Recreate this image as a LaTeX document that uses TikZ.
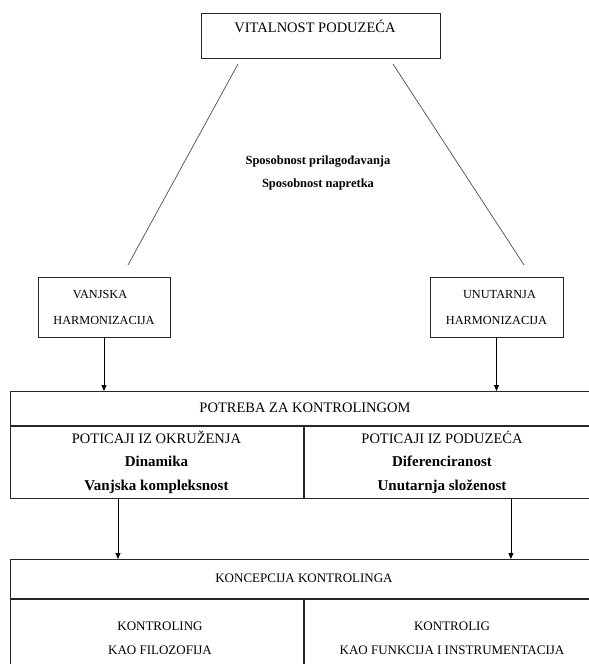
\documentclass[tikz,border=0pt]{standalone}
\usepackage{fontspec}
\setmainfont{Liberation Serif}
\usetikzlibrary{calc,positioning,arrows.meta}

\begin{document}
\begin{tikzpicture}[x=1pt,y=-1pt,
  box/.style={draw=black!85,line width=0.9pt,inner sep=0pt,align=center,
    font=\fontsize{12.3}{26}\selectfont},
  cell/.style={draw=black!85,line width=0.9pt,inner sep=0pt,anchor=north west},
  txt/.style={align=center,inner sep=0pt,font=\fontsize{14.5}{24.5}\selectfont},
  small/.style={txt,font=\fontsize{13}{24}\selectfont},
  arr/.style={-{Triangle[length=6pt,width=5pt]},line width=0.8pt},
  link/.style={line width=0.7pt,black!70}]
  \newcommand{\bfl}[1]{{\bfseries\fontsize{15}{24}\selectfont #1}}
  \useasboundingbox (0,0) rectangle (589,664);
  \clip (0,0) rectangle (589,664);
  % top
  \node[cell,minimum width=239pt,minimum height=45pt] (vit) at (201,13) {};
  \node[txt] (vitt) at (315,26) {VITALNOST PODUZEĆA};
  \node[txt,font=\fontsize{12.5}{23}\selectfont\bfseries] (sposob) at (318,173)
    {Sposobnost prilagođavanja\\Sposobnost napretka};
  % harmonizacija
  \node[box,minimum width=132pt,minimum height=60pt] (vanj) at (104,307)
    {\hspace*{-8pt}VANJSKA\\HARMONIZACIJA};
  \node[box,minimum width=133pt,minimum height=60pt] (unut) at (496.5,307)
    {\hspace*{6pt}UNUTARNJA\\HARMONIZACIJA};
  \coordinate (lt) at (238,64);
  \coordinate (lb) at (128,265);
  \coordinate (rt) at (393,64);
  \coordinate (rb) at (524,265);
  \draw[link] (lt) -- (lb);
  \draw[link] (rt) -- (rb);
  % potreba
  \node[cell,minimum width=590pt,minimum height=34pt] (pot) at (10,391) {};
  \node[cell,minimum width=293pt,minimum height=72pt] (okr) at (pot.south west) {};
  \node[cell,minimum width=297pt,minimum height=72pt] (pod) at (okr.north east) {};
  \node[txt] (pott) at (305,408) {POTREBA ZA KONTROLINGOM};
  \node[txt] (okrt) at (156.5,462)
    {POTICAJI IZ OKRUŽENJA\\[-1pt]\bfl{Dinamika}\\[-1pt]\bfl{Vanjska kompleksnost}};
  \node[txt] (podt) at (442,462)
    {POTICAJI IZ PODUZEĆA\\[-1pt]\bfl{Diferenciranost}\\[-1pt]\bfl{Unutarnja složenost}};
  \draw[arr] (vanj.south) -- (vanj.south |- pot.north);
  \draw[arr] (unut.south) -- (unut.south |- pot.north);
  % koncepcija
  \node[cell,minimum width=590pt,minimum height=39pt] (konc) at (10,559) {};
  \node[cell,minimum width=293pt,minimum height=100pt] (filo) at (konc.south west) {};
  \node[cell,minimum width=297pt,minimum height=100pt] (funk) at (filo.north east) {};
  \node[small] (konct) at (304,578) {KONCEPCIJA KONTROLINGA};
  \node[small] (filot) at (160,638) {KONTROLING\\KAO FILOZOFIJA};
  \node[small] (funkt) at (452,638) {KONTROLIG\\KAO FUNKCIJA I INSTRUMENTACIJA};
  \draw[arr] (okr.south west) ++(108,0) coordinate (a1) -- (a1 |- konc.north);
  \draw[arr] (pod.south west) ++(207,0) coordinate (a2) -- (a2 |- konc.north);
\end{tikzpicture}
\end{document}
